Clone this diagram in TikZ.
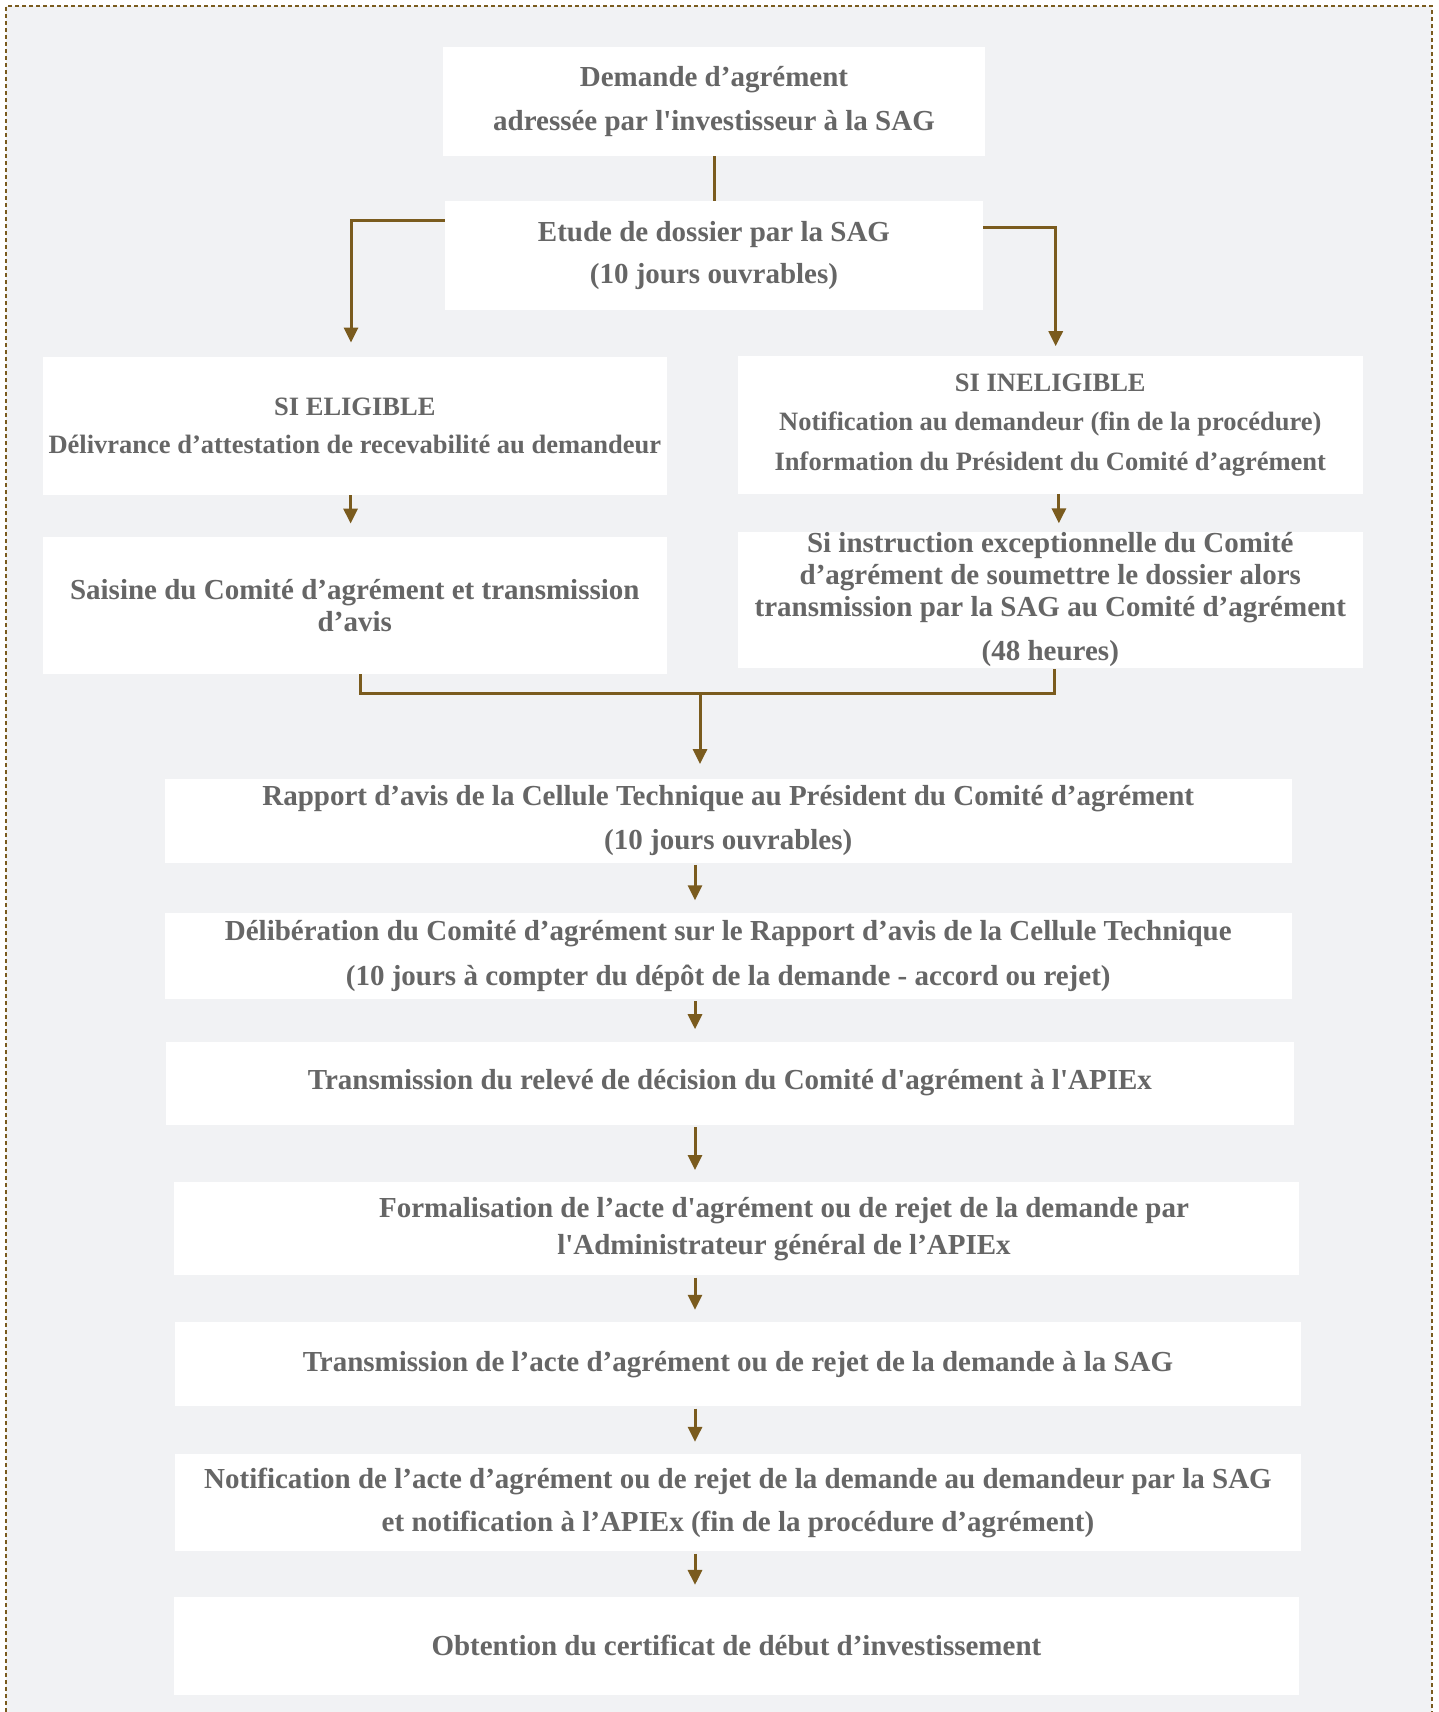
\documentclass[tikz,border=0pt]{standalone}
\usepackage{fontspec}
\setmainfont{Liberation Serif}
\usepackage{xcolor}
\usepackage{tikz}
\usetikzlibrary{arrows.meta, positioning}
\definecolor{flowbrown}{HTML}{7A5B1E}
\definecolor{panelgray}{HTML}{F1F2F4}
\definecolor{textgray}{HTML}{666666}
\tikzset{
    myarrow/.style={draw=flowbrown, line width=1.5pt, -{Triangle[width=7pt, length=7.5pt]}},
    myline/.style={draw=flowbrown, line width=1.5pt},
    box/.style={rectangle, fill=white, text=textgray, align=center, inner sep=0pt, font=\fontsize{14.5}{16}\selectfont\bfseries, execute at begin node={\vspace*{3pt}}},
    smallbox/.style={box, font=\fontsize{13.25}{16}\selectfont\bfseries}
}

\begin{document}
\begin{tikzpicture}[x=0.5pt, y=-0.5pt]
    \useasboundingbox (0,0) rectangle (1439,1712);
    \fill[panelgray] (6,6) rectangle (1432,1712);
    \draw[flowbrown, line width=0.6pt, dash pattern=on 2pt off 1.5pt] (6,1712) -- (6,6) -- (1432,6) -- (1432,1712);

    \node (dem) [box, minimum width=271pt, minimum height=54.5pt] at (714,101.5) {Demande d’agrément\\[6.4pt] adressée par l\textquotesingle investisseur à la SAG};
    \node (etu) [box, minimum width=269pt, minimum height=54.5pt] at (714,255.5) {Etude de dossier par la SAG\\[5.3pt] (10 jours ouvrables)};
    \node (elig) [smallbox, minimum width=312.2pt, minimum height=68.8pt] at (354.8,425.8) {SI ELIGIBLE\\[3pt] Délivrance d’attestation de recevabilité au demandeur};
    \node (inel) [smallbox, minimum width=312.3pt, minimum height=68.75pt] at (1050.3,424.75) {SI INELIGIBLE\\[3.8pt] Notification au demandeur (fin de la procédure)\\[3.8pt] Information du Président du Comité d’agrément};
    \node (sais) [box, minimum width=312.2pt, minimum height=68.3pt] at (354.8,605.3) {Saisine du Comité d’agrément et transmission\\ d’avis};
    \node (instr) [box, minimum width=312.3pt, minimum height=68.25pt] at (1050.3,599.95) {Si instruction exceptionnelle du Comité\\ d’agrément de soumettre le dossier alors\\ transmission par la SAG au Comité d’agrément\\[6pt] (48 heures)};
    \node (rapp) [box, minimum width=563.4pt, minimum height=42pt] at (728.25,820.5) {Rapport d’avis de la Cellule Technique au Président du Comité d’agrément\\[5.9pt] (10 jours ouvrables)};
    \node (delib) [box, minimum width=563.4pt, minimum height=43.2pt] at (728.25,955.85) {Délibération du Comité d’agrément sur le Rapport d’avis de la Cellule Technique\\[6.25pt] (10 jours à compter du dépôt de la demande - accord ou rejet)};
    \node (relev) [box, minimum width=563.9pt, minimum height=41.5pt] at (729.9,1083.1) {Transmission du relevé de décision du Comité d\textquotesingle agrément à l\textquotesingle APIEx};
    \node (formal) [box, minimum width=562.8pt, minimum height=46.4pt] at (736.4,1228.8) {};
    \node (formaltxt) [box, fill=none] at ([xshift=23.8pt]formal.center) {Formalisation de l’acte d\textquotesingle agrément ou de rejet de la demande par\\[2.5pt] l\textquotesingle Administrateur général de l’APIEx};
    \node (trans) [box, minimum width=563.4pt, minimum height=42pt] at (738,1364.2) {Transmission de l’acte d’agrément ou de rejet de la demande à la SAG};
    \node (notif) [box, minimum width=563.4pt, minimum height=48.6pt] at (738,1502.85) {Notification de l’acte d’agrément ou de rejet de la demande au demandeur par la SAG\\[5.75pt] et notification à l’APIEx (fin de la procédure d’agrément)};
    \node (obt) [box, minimum width=562.8pt, minimum height=48.6pt] at (736.4,1645.9) {Obtention du certificat de début d’investissement};

    \coordinate (merge) at (700,693);
    \coordinate (axis) at (695,0);

    \draw[myline] (dem) -- (etu);
    \draw[myarrow, shorten >=7pt] ([yshift=17.25pt]etu.west) -| ([xshift=-1.9pt]elig.north);
    \draw[myarrow, shorten >=4.7pt] ([yshift=13.75pt]etu.east) -| ([xshift=2.7pt]inel.north);
    \draw[myarrow, shorten >=6.5pt] ([xshift=-2.1pt]elig.south) -- ([xshift=-2.1pt]sais.north);
    \draw[myarrow, shorten >=4pt] ([xshift=4.3pt]inel.south) -- ([xshift=4.3pt]instr.north);
    \draw[myline] ([xshift=2.75pt]sais.south) |- (merge) -| ([xshift=2.2pt]instr.south);
    \draw[myarrow, shorten >=7pt] (merge) -- (merge |- rapp.north);
    \foreach \a/\b in {rapp/delib, delib/relev, relev/formal, formal/trans, trans/notif, notif/obt}
        \draw[myarrow, shorten <=1pt, shorten >=6pt] (axis |- \a.south) -- (axis |- \b.north);
\end{tikzpicture}
\end{document}
